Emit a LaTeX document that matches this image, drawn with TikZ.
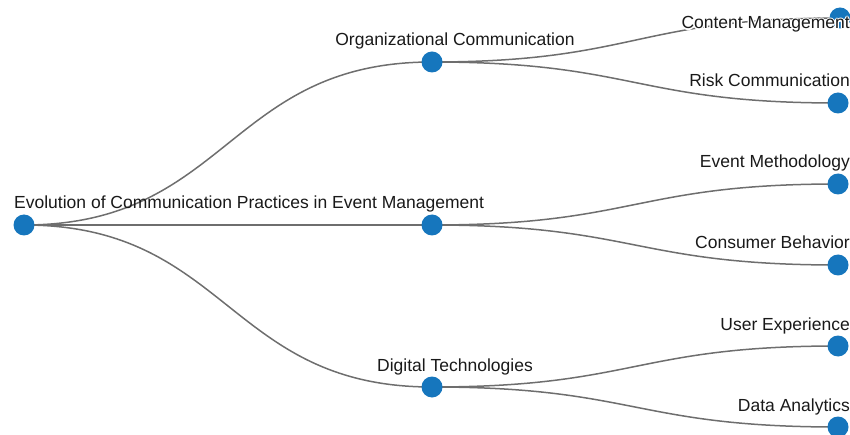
\documentclass[tikz,border=0pt]{standalone}
\usepackage{fontspec}
\setmainfont{Liberation Sans}
\usepackage[copies]{contour}
\contourlength{1.3pt}
\contournumber{8}
\usetikzlibrary{calc,backgrounds}

\definecolor{dotblue}{RGB}{22,118,189}
\definecolor{linkgray}{RGB}{110,110,110}

\tikzset{
  dot/.style={circle, fill=dotblue, inner sep=0pt, minimum size=21pt},
  lbl/.style={inner sep=0pt, font=\fontsize{17.5}{20}\selectfont, text=black!90},
  link/.style={draw=linkgray, line width=1.5pt,
    to path={let \p1=(\tikztostart), \p2=(\tikztotarget) in
      .. controls ({(\x1+\x2)/2},\y1) and ({(\x1+\x2)/2},\y2) .. (\tikztotarget)}}
}

\begin{document}
\begin{tikzpicture}[x=1pt,y=-1pt]
  \useasboundingbox (0,0) rectangle (850,435);

  % tree nodes
  \node[dot] (root) at (24,225) {};
  \node[dot] (org)  at (432,62)  {};
  \node[dot] (evt)  at (432,225) {};
  \node[dot] (dig)  at (432,387) {};
  \node[dot] (cm)   at (840,18)  {};
  \node[dot] (rc)   at (838,103) {};
  \node[dot] (em)   at (838,184) {};
  \node[dot] (cb)   at (838,265) {};
  \node[dot] (ux)   at (838,346) {};
  \node[dot] (da)   at (838,427) {};

  % curved links behind the nodes
  \begin{scope}[on background layer]
    \path[link] (root.center) to (org.center);
    \path[link] (root.center) to (evt.center);
    \path[link] (root.center) to (dig.center);
    \path[link] (org.center) to (cm.center);
    \path[link] (org.center) to (rc.center);
    \path[link] (evt.center) to (em.center);
    \path[link] (evt.center) to (cb.center);
    \path[link] (dig.center) to (ux.center);
    \path[link] (dig.center) to (da.center);
  \end{scope}

  % labels
  \node[lbl, anchor=base west] (rootlbl) at ($(root)+(-10,-16)$) {Evolution of Communication Practices in Event Management};
  \node[lbl, anchor=base] (orglbl) at ($(org)+(23,-16)$) {Organizational Communication};
  \node[lbl, anchor=base] (diglbl) at ($(dig)+(23,-16)$) {Digital Technologies};
  \node[lbl, anchor=base east] (cmlbl) at (850,29) {\contour{white}{Content Management}};
  \node[lbl, anchor=base east] (rclbl) at ($(rc)+(12,-16)$) {Risk Communication};
  \node[lbl, anchor=base east] (emlbl) at ($(em)+(12,-16)$) {Event Methodology};
  \node[lbl, anchor=base east] (cblbl) at ($(cb)+(12,-16)$) {Consumer Behavior};
  \node[lbl, anchor=base east] (uxlbl) at ($(ux)+(12,-16)$) {User Experience};
  \node[lbl, anchor=base east] (dalbl) at ($(da)+(12,-16)$) {Data Analytics};
\end{tikzpicture}
\end{document}
